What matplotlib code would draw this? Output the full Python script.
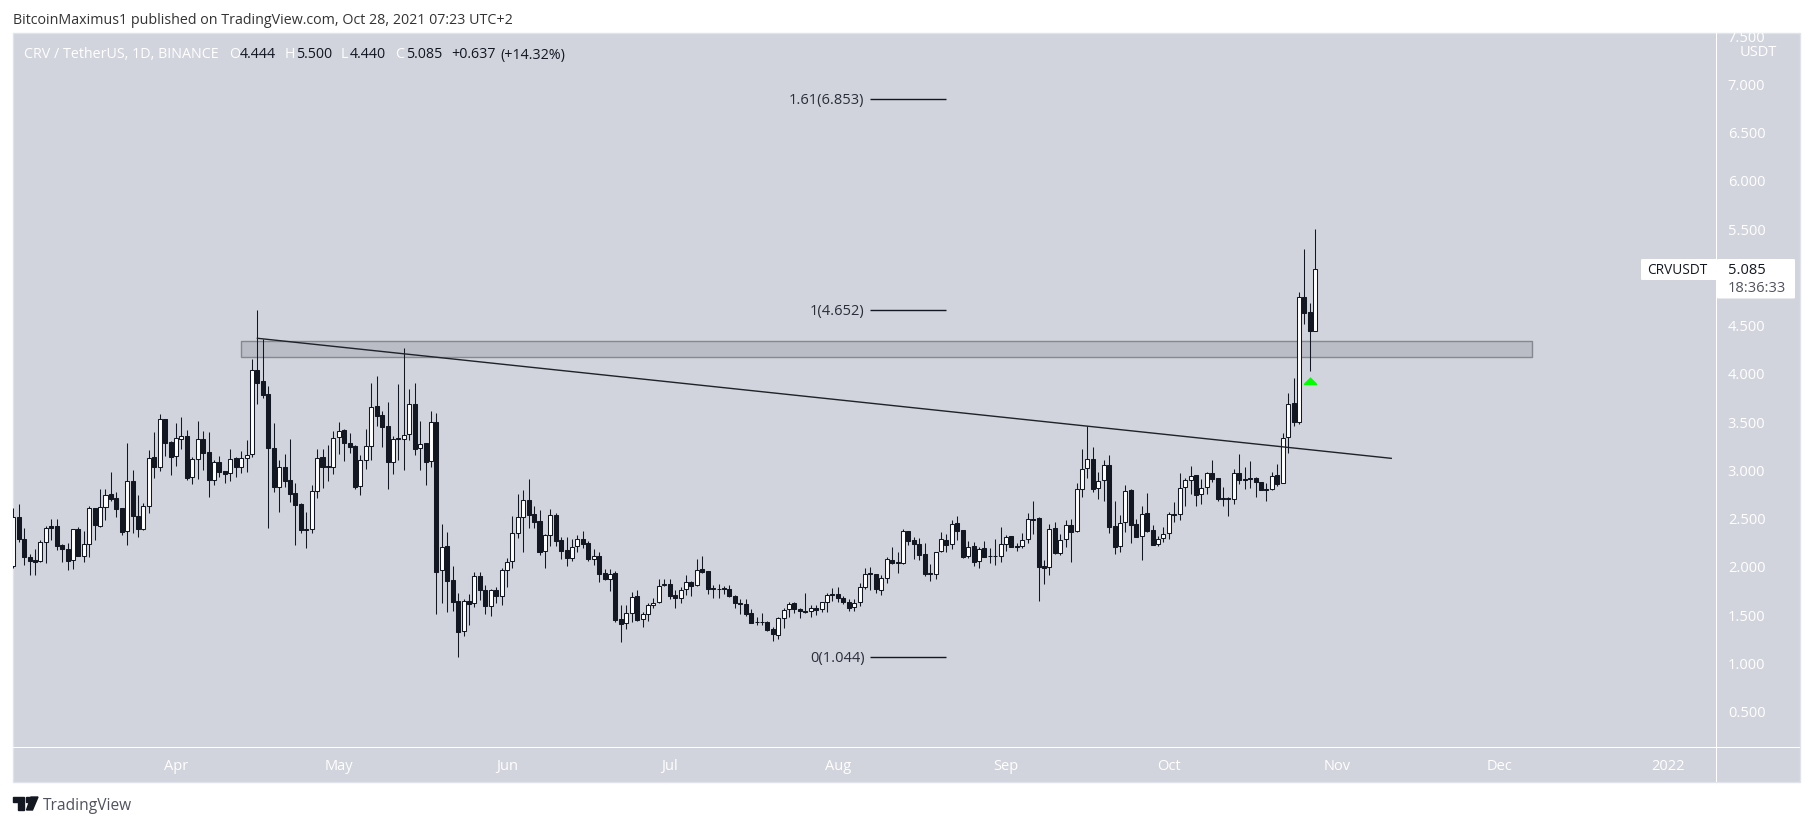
import matplotlib
matplotlib.use("Agg")
import matplotlib.pyplot as plt
import matplotlib.dates as mdates
import numpy as np
import pandas as pd
from matplotlib.patches import Rectangle, FancyBboxPatch, Polygon

W, H = 1813, 826
plt.rcParams["font.family"] = ["Open Sans", "DejaVu Sans"]

# Daily CRV/USDT candles, 2 Mar 2021 to 28 Oct 2021
opens = [2.012,2.513,2.285,2.098,2.067,2.057,2.254,2.420,2.420,2.223,2.181,2.067,2.389,2.116,2.233,2.606,2.427,2.617,2.751,2.710,
         2.606,2.368,2.886,2.527,2.396,2.627,3.135,3.031,3.528,3.290,3.145,3.328,3.352,2.927,3.114,3.321,3.187,2.903,3.083,2.990,
         2.969,3.124,3.038,3.124,3.166,4.036,3.922,3.787,3.228,2.831,3.031,2.896,2.762,2.648,2.389,2.396,2.782,3.135,3.041,3.031,
         3.342,3.414,3.280,3.249,2.834,3.104,3.249,3.663,3.570,3.456,3.090,3.332,3.325,3.373,3.684,3.228,3.280,3.093,3.497,1.964,
         2.212,1.860,1.643,1.332,1.643,1.622,1.902,1.764,1.598,1.757,1.695,1.964,2.057,2.347,2.513,2.689,2.544,2.472,2.161,2.326,
         2.534,2.275,2.171,2.095,2.212,2.285,2.243,2.084,2.109,1.933,1.871,1.933,1.456,1.415,1.518,1.695,1.456,1.508,1.601,1.632,
         1.809,1.826,1.705,1.674,1.767,1.847,1.809,1.974,1.954,1.777,1.774,1.777,1.774,1.698,1.625,1.615,1.518,1.432,1.432,1.428,
         1.353,1.294,1.467,1.560,1.622,1.560,1.539,1.546,1.577,1.560,1.632,1.722,1.722,1.674,1.639,1.581,1.639,1.788,1.933,1.922,
         1.764,1.881,2.074,2.047,2.043,2.368,2.275,2.233,2.130,1.933,1.922,2.161,2.275,2.233,2.451,2.378,2.109,2.212,2.057,2.192,
         2.116,2.116,2.109,2.240,2.316,2.216,2.219,2.285,2.496,2.503,2.009,2.002,2.399,2.147,2.285,2.430,2.368,2.803,3.021,3.114,
         2.814,2.896,3.052,2.420,2.212,2.461,2.793,2.440,2.316,2.555,2.378,2.233,2.295,2.347,2.548,2.544,2.824,2.896,2.948,2.751,
         2.824,2.969,2.917,2.710,2.710,2.700,2.969,2.907,2.917,2.917,2.876,2.807,2.803,2.948,2.865,3.342,3.694,3.504,4.796,4.640,
         4.444]
highs = [2.606,2.651,2.399,2.133,2.185,2.278,2.423,2.496,2.496,2.233,2.243,2.389,2.409,2.371,2.630,2.606,2.807,2.807,2.983,2.776,
         2.606,3.280,3.003,2.744,2.658,3.211,3.401,3.584,3.528,3.307,3.491,3.553,3.418,3.135,3.511,3.408,3.397,3.107,3.149,2.990,
         3.221,3.135,3.200,3.314,4.150,4.661,4.357,3.874,3.491,3.107,3.169,3.321,2.869,2.658,2.565,2.845,3.221,3.221,3.262,3.408,
         3.501,3.428,3.387,3.262,3.159,3.428,3.905,3.977,3.611,3.708,3.356,3.895,4.268,3.843,3.901,3.511,3.280,3.611,3.594,2.444,
         2.361,2.009,1.725,1.667,1.719,1.947,1.947,1.812,1.771,1.795,1.988,2.095,2.527,2.755,2.796,2.910,2.634,2.593,2.337,2.596,
         2.555,2.309,2.306,2.285,2.330,2.371,2.264,2.181,2.150,1.974,1.974,1.960,1.605,1.605,1.736,1.760,1.536,1.622,1.674,1.871,
         1.871,1.871,1.760,1.795,1.912,1.854,2.078,2.109,1.960,1.812,1.819,1.802,1.809,1.705,1.667,1.667,1.560,1.484,1.518,1.435,
         1.380,1.484,1.570,1.639,1.639,1.570,1.725,1.605,1.605,1.639,1.733,1.777,1.795,1.698,1.663,1.663,1.836,1.988,1.995,1.926,
         1.916,2.098,2.202,2.157,2.389,2.375,2.306,2.295,2.243,2.026,2.157,2.358,2.340,2.485,2.527,2.382,2.268,2.254,2.202,2.264,
         2.192,2.288,2.409,2.330,2.320,2.250,2.347,2.554,2.682,2.513,2.071,2.441,2.461,2.340,2.485,2.492,2.872,3.221,3.459,3.242,
         2.983,3.107,3.159,2.682,2.537,2.845,2.803,2.496,2.630,2.769,2.434,2.320,2.409,2.572,2.675,2.972,2.917,3.045,2.952,2.910,
         2.979,3.107,2.924,2.824,2.720,3.014,3.169,3.031,3.097,2.927,2.879,2.872,2.979,3.066,3.383,3.798,3.953,4.848,5.293,4.737,
         5.500]
lows = [1.991,2.261,2.019,1.915,1.915,2.054,2.043,2.278,2.174,2.054,1.967,1.981,2.116,2.054,2.105,2.278,2.416,2.485,2.686,2.520,
        2.330,2.226,2.347,2.312,2.382,2.554,2.924,2.993,3.149,2.952,3.045,3.221,2.900,2.858,2.910,3.003,2.727,2.848,2.934,2.872,
        2.889,2.934,2.976,2.983,3.142,3.687,3.753,2.406,2.776,2.572,2.831,2.672,2.230,2.354,2.199,2.354,2.717,2.817,2.889,2.965,
        3.169,3.097,3.183,2.807,2.748,3.017,3.107,3.459,3.245,2.810,2.965,3.107,3.007,3.314,3.159,3.003,2.852,3.038,1.515,1.629,
        1.536,1.546,1.069,1.287,1.397,1.587,1.656,1.511,1.494,1.629,1.608,1.795,1.991,2.299,2.157,2.406,2.406,2.123,1.991,2.216,
        2.216,2.081,2.009,2.064,2.157,2.192,2.064,2.023,1.846,1.864,1.753,1.432,1.225,1.353,1.432,1.442,1.380,1.442,1.570,1.622,
        1.802,1.667,1.577,1.622,1.708,1.702,1.802,1.940,1.719,1.674,1.674,1.719,1.684,1.570,1.511,1.494,1.415,1.397,1.397,1.339,
        1.235,1.253,1.363,1.484,1.518,1.473,1.525,1.484,1.501,1.536,1.536,1.646,1.639,1.615,1.546,1.546,1.598,1.770,1.760,1.726,
        1.708,1.836,2.029,1.940,2.029,2.226,2.084,2.071,1.905,1.857,1.877,2.154,2.157,2.185,2.278,2.088,2.088,2.012,1.991,2.098,
        2.036,2.019,2.054,2.168,2.206,2.168,2.192,2.250,2.340,1.650,1.826,1.915,2.133,2.123,2.209,2.054,2.365,2.727,2.924,2.779,
        2.703,2.686,2.347,2.136,2.157,2.365,2.243,2.306,2.071,2.365,2.226,2.219,2.261,2.292,2.468,2.489,2.634,2.751,2.634,2.651,
        2.758,2.876,2.686,2.634,2.530,2.655,2.858,2.810,2.814,2.727,2.796,2.686,2.796,2.841,2.865,3.176,3.459,3.484,4.516,4.032,
        4.440]
closes = [2.520,2.285,2.098,2.064,2.054,2.254,2.406,2.406,2.219,2.181,2.064,2.389,2.116,2.233,2.606,2.437,2.617,2.748,2.706,2.603,
          2.365,2.886,2.530,2.396,2.627,3.131,3.031,3.528,3.287,3.142,3.332,3.352,2.924,3.114,3.321,3.183,2.903,3.083,2.986,2.965,
          3.121,3.038,3.124,3.162,4.036,3.908,3.784,3.228,2.831,3.031,2.893,2.758,2.644,2.385,2.385,2.789,3.131,3.038,3.031,3.338,
          3.411,3.287,3.245,2.831,3.104,3.249,3.653,3.566,3.452,3.090,3.321,3.321,3.370,3.684,3.225,3.276,3.090,3.497,1.950,2.209,
          1.857,1.639,1.328,1.643,1.619,1.902,1.764,1.598,1.757,1.695,1.964,2.054,2.347,2.513,2.696,2.541,2.468,2.157,2.326,2.534,
          2.271,2.168,2.095,2.209,2.285,2.240,2.084,2.109,1.929,1.871,1.929,1.449,1.411,1.518,1.691,1.449,1.508,1.601,1.629,1.805,
          1.826,1.702,1.674,1.764,1.847,1.805,1.971,1.950,1.767,1.767,1.767,1.767,1.695,1.622,1.612,1.515,1.422,1.425,1.425,1.349,
          1.301,1.467,1.556,1.612,1.560,1.539,1.532,1.577,1.556,1.632,1.712,1.708,1.674,1.639,1.577,1.629,1.788,1.929,1.922,1.767,
          1.888,2.081,2.043,2.040,2.368,2.271,2.233,2.126,1.929,1.922,2.157,2.285,2.230,2.447,2.375,2.105,2.209,2.054,2.188,2.105,
          2.109,2.109,2.240,2.313,2.209,2.206,2.282,2.492,2.489,2.002,1.991,2.396,2.147,2.282,2.430,2.365,2.810,3.017,3.114,2.810,
          2.893,3.052,2.416,2.209,2.458,2.789,2.437,2.313,2.551,2.375,2.230,2.292,2.344,2.544,2.541,2.820,2.896,2.945,2.748,2.820,
          2.969,2.914,2.706,2.700,2.700,2.969,2.896,2.896,2.907,2.876,2.800,2.800,2.945,2.858,3.338,3.691,3.504,4.800,4.633,4.447,
          5.085]

y_ticks = [0.5, 1.0, 1.5, 2.0, 2.5, 3.0, 3.5, 4.0, 4.5, 5.5, 6.0, 6.5, 7.0, 7.5]
month_ticks = ["2021-04-01", "2021-05-01", "2021-06-01", "2021-07-01", "2021-08-01",
               "2021-09-01", "2021-10-01", "2021-11-01", "2021-12-01", "2022-01-01"]
month_labels = ["Apr", "May", "Jun", "Jul", "Aug", "Sep", "Oct", "Nov", "Dec", "2022"]

# Drawings on the chart
fib_levels = [6.849, 4.658, 1.062]
fib_labels = ["1.61(6.853)", "1(4.652)", "0(1.044)"]
fib_start, fib_end = "2021-08-07", "2021-08-21"
zone_low, zone_high = 4.171, 4.337
zone_start, zone_end = "2021-04-13", "2021-12-07"
trend_dates = ["2021-04-16", "2021-11-11"]
trend_prices = [4.368, 3.124]
arrow_date, arrow_price = "2021-10-27", 3.925

INK = "#131722"
PANEL = "#d1d4dc"

fig = plt.figure(figsize=(W / 100, H / 100), dpi=100, facecolor="white")


def fx(x):
    return x / W


def fy(y):
    return 1 - y / H


def fig_text(x, y, s, color=INK, size=10, ha="left", zorder=10):
    fig.text(fx(x), fy(y), s, color=color, fontsize=size, ha=ha, va="center", zorder=zorder)


def fig_rect(x0, y0, x1, y1, **kw):
    fig.add_artist(Rectangle((fx(x0), fy(y1)), fx(x1 - x0), (y1 - y0) / H, transform=fig.transFigure, **kw))


# panel, including the two axis strips
panel = Rectangle((fx(13), fy(782)), fx(1787), 749 / H, transform=fig.transFigure,
                  facecolor=PANEL, edgecolor="#e0e3eb", linewidth=1, zorder=0)
fig.add_artist(panel)

ax = fig.add_axes([fx(13), fy(747), fx(1716 - 13), (747 - 33) / H], zorder=2)
ax.patch.set_alpha(0)
for s in ax.spines.values():
    s.set_visible(False)

dates = pd.date_range("2021-03-02", periods=len(opens), freq="D")
x = mdates.date2num(dates)
o, h, l, c = map(np.array, (opens, highs, lows, closes))
up = c >= o

# wicks then bodies
ax.vlines(x, l, h, color=INK, linewidth=0.75, zorder=3)
ax.bar(x[up], (c - o)[up], bottom=o[up], width=0.74, facecolor="white", edgecolor=INK, linewidth=0.75, zorder=4)
ax.bar(x[~up], (o - c)[~up], bottom=c[~up], width=0.74, facecolor=INK, edgecolor=INK, linewidth=0.75, zorder=4)

# support zone
z0, z1 = mdates.date2num(pd.to_datetime([zone_start, zone_end]))
ax.add_patch(Rectangle((z0, zone_low), z1 - z0, zone_high - zone_low, facecolor="#babdc6",
                       edgecolor="#85888f", linewidth=1, zorder=2))

# trend line
ax.plot(mdates.date2num(pd.to_datetime(trend_dates)), trend_prices, color="#1f2229", linewidth=1.0, zorder=5)

# fib levels
f0, f1 = mdates.date2num(pd.to_datetime([fib_start, fib_end]))
ax.hlines(fib_levels, f0, f1, color=INK, linewidth=1, zorder=5)
for lev, lab in zip(fib_levels, fib_labels):
    ax.annotate(lab, (f0, lev), xytext=(-4.3, -1), textcoords="offset points", ha="right", va="center",
                color="#2a2e39", fontsize=10.5, zorder=6)

# green arrow
house = [(-1, -0.55), (-1, -0.35), (0, 0.65), (1, -0.35), (1, -0.55)]
ax.plot(mdates.date2num(pd.Timestamp(arrow_date)), arrow_price, linestyle="none", marker=house,
        markersize=9.5, color="#00ff00", markeredgewidth=0, zorder=6)

# axes limits so that the first candle sits on the panel edge
day0 = x[0]
ax.set_xlim(day0 - 0.05, day0 + (1716 - 13.3) / 5.425)
ax.set_ylim(3 + (470.3 - 747) / 96.5, 3 + (470.3 - 33) / 96.5)

ax.yaxis.tick_right()
ax.set_yticks(y_ticks)
ax.set_yticklabels([f"{v:.3f}" for v in y_ticks])
ax.set_xticks(mdates.date2num(pd.to_datetime(month_ticks)))
ax.set_xticklabels(month_labels)
ax.tick_params(axis="y", length=0, pad=8.5, labelcolor="white", labelsize=10.5)
ax.tick_params(axis="x", length=0, pad=8.5, labelcolor="white", labelsize=10.5)
for t in ax.get_yticklabels():
    t.set_clip_on(True)
    t.set_clip_path(panel)

# separators between plot and axis strips
fig_rect(1715.5, 33, 1716.7, 782, facecolor="white", edgecolor="none", zorder=3)
fig_rect(13, 746.5, 1800, 747.7, facecolor="white", edgecolor="none", zorder=3)

fig_text(1740, 52.5, "USDT", color="white", size=10.5)

# last price tags
fig.add_artist(FancyBboxPatch((fx(1641), fy(280)), fx(76), 21 / H, boxstyle="round,pad=0,rounding_size=0.001",
                              transform=fig.transFigure, facecolor="white", edgecolor="none", zorder=8))
fig.add_artist(FancyBboxPatch((fx(1717), fy(298.5)), fx(78), 39.5 / H, boxstyle="round,pad=0,rounding_size=0.001",
                              transform=fig.transFigure, facecolor="white", edgecolor="none", zorder=8))
fig_text(1647, 270, "CRVUSDT", size=9.8)
fig_text(1728, 270, "5.085", size=10.5)
fig_text(1728, 288.5, "18:36:33", color="#50535e", size=10.5)

# header texts
fig_text(13, 20, "BitcoinMaximus1 published on TradingView.com, Oct 28, 2021 07:23 UTC+2", color="#333333", size=10.3)
fig_text(23.5, 55, "CRV / TetherUS, 1D, BINANCE", color="white", size=10.3)
for xp, s, col in [(229, "O", "white"), (240, "4.444", INK), (285, "H", "white"), (296, "5.500", INK),
                   (341, "L", "white"), (350, "4.440", INK), (395, "C", "white"), (406, "5.085", INK),
                   (451, "+0.637", INK), (500, "(+14.32%)", INK)]:
    fig_text(xp, 55, s, color=col, size=10.3)

# TradingView logo and name
logo = "#131722"
fig.add_artist(Polygon([(fx(13), fy(797)), (fx(24), fy(797)), (fx(24), fy(810)), (fx(18), fy(810)),
                        (fx(18), fy(802)), (fx(13), fy(802))], transform=fig.transFigure, color=logo, zorder=8))
fig.add_artist(Polygon([(fx(31), fy(797)), (fx(38), fy(797)), (fx(32.5), fy(810)), (fx(26.5), fy(810))],
                       transform=fig.transFigure, color=logo, zorder=8))
fig.add_artist(Rectangle((fx(25.5), fy(801.5)), fx(4), 4.5 / H, transform=fig.transFigure, color=logo, zorder=8))
fig_text(43, 806, "TradingView", color="#50535e", size=11.2)

fig.savefig("out.png", dpi=100)
